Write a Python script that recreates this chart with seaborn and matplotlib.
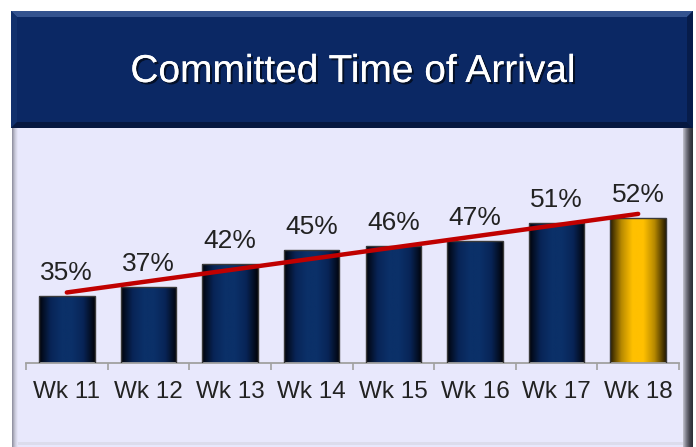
import numpy as np
import pandas as pd
import matplotlib
import matplotlib.pyplot as plt
import seaborn as sns
from matplotlib.colors import LinearSegmentedColormap
from matplotlib.patches import Rectangle, Polygon
from matplotlib import patheffects

matplotlib.use('Agg')

# --- Data ---
weeks = ['Wk 11', 'Wk 12', 'Wk 13', 'Wk 14', 'Wk 15', 'Wk 16', 'Wk 17', 'Wk 18']
cta_pct = [35, 37, 42, 45, 46, 47, 51, 52]
highlight_week = 'Wk 18'
title = 'Committed Time of Arrival'

W, H = 696, 447
sns.set_theme(style='white')
plt.rcParams['font.family'] = ['Liberation Sans', 'DejaVu Sans']

fig = plt.figure(figsize=(W / 100, H / 100), dpi=100)
fig.patch.set_facecolor('white')

# background panels drawn in pixel space
bg = fig.add_axes([0, 0, 1, 1], zorder=0)
bg.set_xlim(0, W)
bg.set_ylim(H, 0)
bg.axis('off')

# lower lavender panel with grey borders / shadow
bg.add_patch(Rectangle((12, 128), 671, 320, facecolor='#e8e8fc', edgecolor='none'))
bg.add_patch(Rectangle((12, 442), 671, 3, facecolor='#dcdcec', edgecolor='none'))
side = np.linspace(0, 1, 32).reshape(1, -1)
left_cmap = LinearSegmentedColormap.from_list('lb', ['#8c8c9c', '#c8c8d8', '#e8e8fc'])
right_cmap = LinearSegmentedColormap.from_list('rb', ['#c0c0cc', '#7a7a86', '#45454f', '#2e2e36'])
bg.imshow(side, cmap=left_cmap, extent=(12, 18, H, 128), aspect='auto', zorder=1)
bg.imshow(side, cmap=right_cmap, extent=(683, 693, H, 128), aspect='auto', zorder=1)

# title banner with bevelled edges
bx0, bx1, by0, by1, bev = 11, 693, 11, 128, 6
bg.add_patch(Rectangle((bx0, by0), bx1 - bx0, by1 - by0, facecolor='#0b2864', edgecolor='none', zorder=1))
bg.add_patch(Polygon([(bx0, by0), (bx1, by0), (bx1 - bev, by0 + bev), (bx0 + bev, by0 + bev)],
                     facecolor='#34538f', edgecolor='none', zorder=1))
bg.add_patch(Polygon([(bx0, by0), (bx0 + bev, by0 + bev), (bx0 + bev, by1 - bev), (bx0, by1)],
                     facecolor='#11306c', edgecolor='none', zorder=1))
bg.add_patch(Polygon([(bx1, by0), (bx1, by1), (bx1 - bev, by1 - bev), (bx1 - bev, by0 + bev)],
                     facecolor='#071c4a', edgecolor='none', zorder=1))
bg.add_patch(Polygon([(bx0, by1), (bx1, by1), (bx1 - bev, by1 - bev), (bx0 + bev, by1 - bev)],
                     facecolor='#061840', edgecolor='none', zorder=1))
bg.text(353, 72, title, color='white', fontsize=28, ha='center', va='center', zorder=2,
        path_effects=[patheffects.withSimplePatchShadow(offset=(1.5, -1.5), shadow_rgbFace='#000000', alpha=0.6),
                      patheffects.Normal()])

# --- Chart ---
df = pd.DataFrame({'week': weeks, 'pct': cta_pct})
ax = fig.add_axes([26 / W, 1 - 363 / H, (679 - 26) / W, 211.6 / H], zorder=2)
ax.patch.set_alpha(0)

sns.barplot(data=df, x='week', y='pct', ax=ax, width=0.68, color='#0b2d6b',
            edgecolor='#3a3a3a', linewidth=1.0, saturation=1)
ax.set_ylim(20.5, 66.5)
ax.set_xlim(-0.5, len(weeks) - 0.5)

# horizontal shading: dark edges, brighter centre
navy_cmap = LinearSegmentedColormap.from_list(
    'navy', [(0, '#01040c'), (0.2, '#082456'), (0.4, '#0b3068'), (0.6, '#0b3068'),
             (0.8, '#082456'), (1, '#01040c')])
gold_cmap = LinearSegmentedColormap.from_list(
    'gold', [(0, '#2a1e00'), (0.2, '#b88a00'), (0.4, '#ffc000'), (0.6, '#ffc000'),
             (0.8, '#b88a00'), (1, '#2a1e00')])
grad = np.linspace(0, 1, 64).reshape(1, -1)
for patch, wk in zip(ax.patches, weeks):
    x0, y0 = patch.get_x(), ax.get_ylim()[0]
    x1, y1 = x0 + patch.get_width(), patch.get_height()
    cmap = gold_cmap if wk == highlight_week else navy_cmap
    im = ax.imshow(grad, cmap=cmap, extent=(x0, x1, y0, y1), aspect='auto', zorder=2)
    im.set_clip_path(patch)
    patch.set_facecolor('none')
    patch.set_zorder(3)

ax.bar_label(ax.containers[0], labels=[f'{v}%' for v in cta_pct], padding=8,
             fontsize=19, color='#222222')

# linear trend line
xs = np.arange(len(cta_pct))
slope, icpt = np.polyfit(xs, cta_pct, 1)
ax.plot(xs, slope * xs + icpt, color='#c00000', linewidth=3.2, zorder=4,
        solid_capstyle='round')

for s in ['top', 'right', 'left']:
    ax.spines[s].set_visible(False)
ax.spines['bottom'].set_color('#a0a0a0')
ax.spines['bottom'].set_linewidth(1.3)
ax.set_yticks([])
ax.set_xticks(xs)
ax.set_xticklabels(weeks, fontsize=17.5, color='#222222')
ax.set_xticks(np.arange(len(weeks) + 1) - 0.5, minor=True)
ax.tick_params(axis='x', which='major', length=0, pad=13)
ax.tick_params(axis='x', which='minor', length=5, width=1.2, color='#a0a0a0', bottom=True)
ax.set_xlabel('')
ax.set_ylabel('')
ax.grid(False)

fig.savefig('out.png', dpi=100)
